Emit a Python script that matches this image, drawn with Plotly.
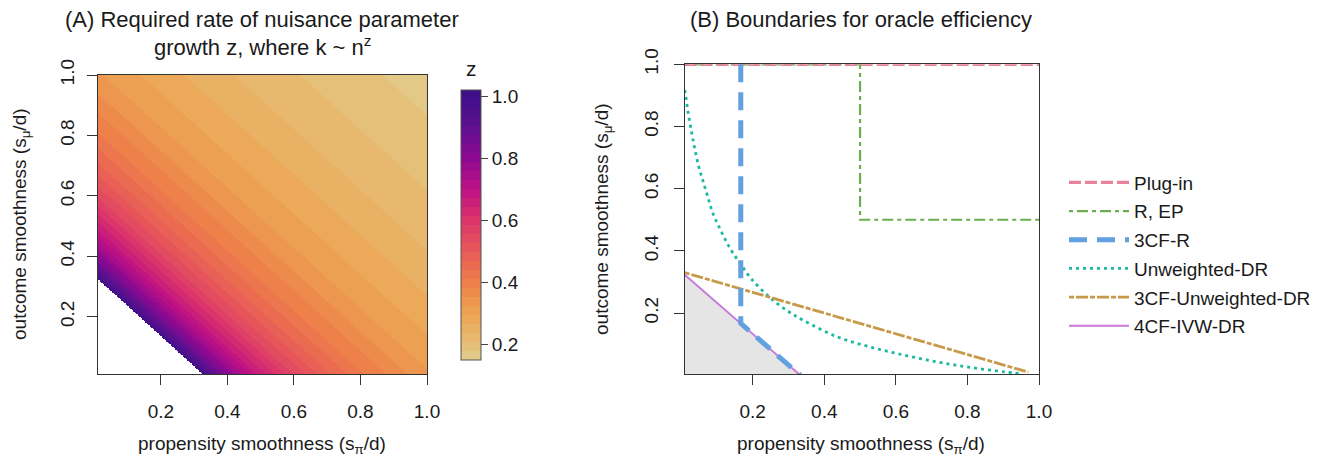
import numpy as np
import plotly.graph_objects as go

W, H = 1328, 465
OFF = 8                      # default page body margin
FW, FH = W - 2 * OFF, H - 2 * OFF


def PX(p):
    return (p - OFF) / FW


def PY(p):
    return 1 - (p - OFF) / FH


# ---------------- Panel A data (z along diagonal s = s_pi + s_mu) ----------------
diag_sum = [0.333, 0.36, 0.40, 0.45, 0.50, 0.60, 0.70, 0.80, 1.00, 1.20, 1.40, 1.60, 1.80, 2.00]
z_on_diag = [1.00, 0.93, 0.83, 0.74, 0.67, 0.56, 0.48, 0.42, 0.33, 0.28, 0.24, 0.21, 0.185, 0.167]
grid_pts = np.linspace(0.01, 1.0, 220)

# ---------------- Panel B data (boundaries) ----------------
plugin_x = [0.01, 1.0]
plugin_y = [1.0, 1.0]
rep_x = [0.01, 0.5, 0.5, 1.0]
rep_y = [1.0, 1.0, 0.5, 0.5]
r3cf_x = [0.1667, 0.1667, 0.333]
r3cf_y = [1.0, 0.1667, 0.0]
udr_x = [0.010, 0.012, 0.019, 0.028, 0.037, 0.049, 0.061, 0.075, 0.089, 0.107, 0.126, 0.145,
         0.168, 0.196, 0.248, 0.300, 0.341, 0.435, 0.528, 0.622, 0.715, 0.809, 0.902, 0.95]
udr_y = [0.917, 0.905, 0.850, 0.790, 0.735, 0.672, 0.625, 0.572, 0.520, 0.475, 0.430, 0.393,
         0.355, 0.310, 0.250, 0.205, 0.177, 0.124, 0.091, 0.065, 0.043, 0.025, 0.011, 0.005]
u3cf_x = [0.01, 0.97]
u3cf_y = [0.330, 0.010]
ivw_x = [0.01, 0.333]
ivw_y = [0.323, 0.0]

# ---------------- colours ----------------
anchors = [(0.15, "#E1CD8F"), (0.20, "#E6BE74"), (0.30, "#ECA453"), (0.40, "#EE7F49"),
           (0.50, "#E85A58"), (0.60, "#DB356B"), (0.70, "#BF1084"), (0.80, "#8C0991"),
           (0.90, "#5E108F"), (1.02, "#3A0F88")]
zmin, zmax = 0.15, 1.02


def hex2rgb(h):
    h = h.lstrip('#')
    return np.array([int(h[i:i + 2], 16) for i in (0, 2, 4)], dtype=float)


def col_at(v):
    zs = [a[0] for a in anchors]
    cs = [hex2rgb(a[1]) for a in anchors]
    for i in range(len(zs) - 1):
        if zs[i] <= v <= zs[i + 1]:
            t = (v - zs[i]) / (zs[i + 1] - zs[i])
            c = cs[i] * (1 - t) + cs[i + 1] * t
            return "rgb(%d,%d,%d)" % tuple(np.round(c))
    return "rgb(%d,%d,%d)" % tuple(cs[-1] if v > zs[-1] else cs[0])


nlev = 30
cscale = []
for i in range(nlev):
    v = zmin + (i + 0.5) * (zmax - zmin) / nlev
    c = col_at(v)
    cscale.append([i / nlev, c])
    cscale.append([(i + 1) / nlev, c])

# grid for heatmap
GX, GY = np.meshgrid(grid_pts, grid_pts)
S = GX + GY
Z = np.interp(S, diag_sum, z_on_diag)
Zl = [[(None if S[i, j] < diag_sum[0] else float(Z[i, j])) for j in range(len(grid_pts))]
      for i in range(len(grid_pts))]

FAM = "Liberation Sans"
TXT = "#1a1a1a"

fig = go.Figure()

fig.add_trace(go.Heatmap(
    x=grid_pts, y=grid_pts, z=Zl, zmin=zmin, zmax=zmax, colorscale=cscale, zsmooth=False,
    xaxis="x", yaxis="y", hoverinfo="skip", showlegend=False,
    colorbar=dict(x=PX(461), xanchor="left", y=PY(90), yanchor="top",
                  len=270 / FH, lenmode="fraction", thickness=20, xpad=0, ypad=0,
                  outlinewidth=1, outlinecolor="#555555",
                  tickvals=[0.2, 0.4, 0.6, 0.8, 1.0], ticktext=["0.2", "0.4", "0.6", "0.8", "1.0"],
                  ticks="outside", ticklen=7, tickcolor="#444444",
                  tickfont=dict(size=19, color=TXT, family=FAM)),
))

LEG_FONT = dict(family=FAM, size=19, color=TXT)

# grey feasible region
fig.add_trace(go.Scatter(x=ivw_x, y=ivw_y, mode="lines", fill="tozeroy", fillcolor="#E5E5E5",
                         line=dict(width=0, color="#E5E5E5"), xaxis="x2", yaxis="y2",
                         showlegend=False, hoverinfo="skip"))

fig.add_trace(go.Scatter(x=rep_x, y=rep_y, mode="lines", name="R, EP", legendrank=2, legendgroup="g2",
                         line=dict(color="#6BAE4F", width=2.2, dash="4px,4px,11px,4px"),
                         xaxis="x2", yaxis="y2"))
fig.add_trace(go.Scatter(x=plugin_x, y=plugin_y, mode="lines", name="Plug-in", legendrank=1, legendgroup="g1",
                         line=dict(color="#E9819A", width=3.2, dash="12px,4px"),
                         xaxis="x2", yaxis="y2"))
fig.add_trace(go.Scatter(x=udr_x, y=udr_y, mode="lines", name="Unweighted-DR", legendrank=4, legendgroup="g4",
                         line=dict(color="#1DB8A2", width=2.8, dash="3px,4px", shape="spline"),
                         xaxis="x2", yaxis="y2"))
fig.add_trace(go.Scatter(x=u3cf_x, y=u3cf_y, mode="lines", name="3CF-Unweighted-DR", legendrank=5, legendgroup="g5",
                         line=dict(color="#C69A4A", width=2.8, dash="5px,2px,12px,2px"),
                         xaxis="x2", yaxis="y2"))
fig.add_trace(go.Scatter(x=ivw_x, y=ivw_y, mode="lines", name="4CF-IVW-DR", legendrank=6, legendgroup="g6",
                         line=dict(color="#C77BDB", width=2),
                         xaxis="x2", yaxis="y2"))
fig.add_trace(go.Scatter(x=r3cf_x, y=r3cf_y, mode="lines", name="3CF-R", legendrank=3, legendgroup="g3",
                         line=dict(color="#62A0E0", width=5, dash="18px,10px"),
                         xaxis="x2", yaxis="y2"))

axis_common = dict(showline=True, linecolor="#333333", linewidth=1, mirror=True, automargin=False,
                   ticks="outside", tickcolor="#333333", ticklen=10, showgrid=False, zeroline=False,
                   tickvals=[0.2, 0.4, 0.6, 0.8, 1.0], ticktext=["0.2", "0.4", "0.6", "0.8", "1.0"],
                   tickfont=dict(family=FAM, size=19, color=TXT))

fig.update_layout(
    template="none",
    width=FW, height=FH, margin=dict(l=0, r=0, t=0, b=0, autoexpand=False),
    paper_bgcolor="white", plot_bgcolor="white",
    font=dict(family=FAM, color=TXT),
    xaxis=dict(domain=[PX(97.7), PX(427)], range=[0.01, 1.0], anchor="y", ticklabelstandoff=10, **axis_common),
    yaxis=dict(domain=[PY(374), PY(75)], range=[0.01, 1.0], anchor="x", tickangle=-90,
               ticklabelstandoff=5, **axis_common),
    xaxis2=dict(domain=[PX(684.7), PX(1039)], range=[0.01, 1.0], anchor="y2", ticklabelstandoff=10, **axis_common),
    yaxis2=dict(domain=[PY(374), PY(64.3)], range=[0.004, 1.0], anchor="x2", tickangle=-90,
                ticklabelstandoff=8, **axis_common),
    legend=dict(x=PX(1064), xanchor="left", y=PY(254.5), yanchor="middle", font=LEG_FONT,
                itemwidth=60, tracegroupgap=1, bgcolor="rgba(0,0,0,0)", borderwidth=0),
    showlegend=True,
)

TF = dict(family=FAM, size=22, color=TXT)
AF = dict(family=FAM, size=19, color=TXT)
ann = [
    dict(text="(A) Required rate of nuisance parameter", x=PX(262), y=PY(19), font=TF),
    dict(text="growth z, where k ~ n<sup>z</sup>", x=PX(262), y=PY(46), font=TF),
    dict(text="(B) Boundaries for oracle efficiency", x=PX(861), y=PY(19), font=TF),
    dict(text="z", x=PX(471), y=PY(68), font=dict(family=FAM, size=21, color=TXT)),
]
for a in ann:
    fig.add_annotation(xref="paper", yref="paper", showarrow=False, xanchor="center", yanchor="middle", **a)
for cx in (262, 861):
    fig.add_annotation(xref="paper", yref="paper", showarrow=False, xanchor="center", yanchor="middle",
                       font=AF, x=PX(cx), y=PY(445),
                       text="propensity smoothness (s<sub>π</sub>/d)")
for cx, cy in ((21, 224), (603, 219)):
    fig.add_annotation(xref="paper", yref="paper", showarrow=False, xanchor="center", yanchor="middle",
                       font=AF, x=PX(cx), y=PY(cy), textangle=-90,
                       text="outcome smoothness (s<sub>μ</sub>/d)")

fig.write_html("out.html")
